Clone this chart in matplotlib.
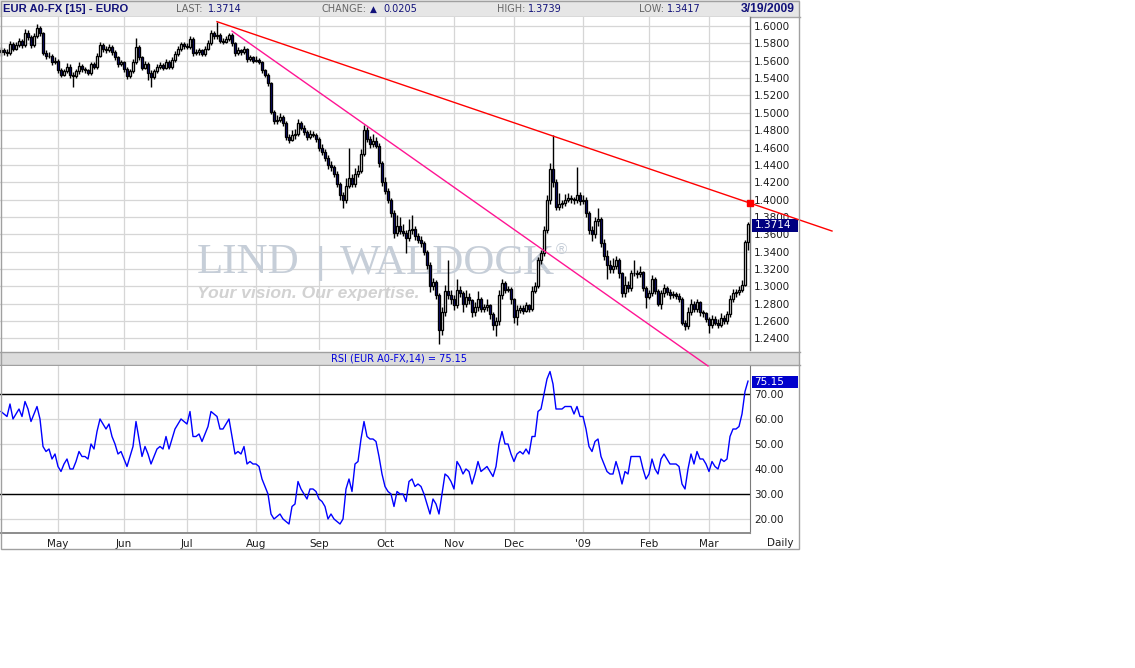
import numpy as np
import pandas as pd
import matplotlib
matplotlib.use("Agg")
import matplotlib.pyplot as plt
from matplotlib.patches import Rectangle
from matplotlib.lines import Line2D

# ---------------- data (prices in 1/10000) ----------------
opens = [
15700,15720,15700,15690,15790,15740,15780,15830,15780,15920,
15870,15780,15880,15980,15920,15690,15650,15660,15580,15600,
15490,15440,15480,15530,15430,15420,15480,15540,15500,15490,
15460,15560,15530,15660,15780,15740,15720,15760,15700,15640,
15560,15580,15500,15420,15480,15580,15760,15640,15520,15560,
15460,15410,15480,15530,15550,15520,15590,15530,15610,15680,
15740,15790,15770,15760,15850,15690,15700,15720,15680,15740,
15800,15920,15880,15900,15830,15820,15850,15900,15800,15690,
15720,15700,15740,15620,15640,15600,15610,15590,15490,15440,
15340,15010,14900,14920,14950,14880,14720,14690,14750,14760,
14880,14830,14780,14720,14760,14750,14700,14600,14550,14480,
14400,14380,14300,14180,14050,13990,14160,14250,14180,14300,
14330,14520,14800,14700,14640,14680,14620,14420,14200,14100,
14000,13850,13620,13700,13640,13620,13560,13650,13660,13580,
13540,13500,13400,13250,13000,13050,12900,12500,12700,12950,
12900,12850,12780,12960,12920,12800,12880,12840,12700,12760,
12860,12740,12760,12780,12680,12560,12600,12900,13040,12960,
12970,12850,12650,12730,12750,12720,12780,12740,12950,13000,
13300,13380,13650,14000,14350,14200,13920,13950,13960,14000,
14020,14010,13990,14050,13980,14000,13850,13650,13600,13750,
13780,13500,13350,13250,13200,13230,13300,13150,12920,13020,
12980,13150,13160,13140,13170,12980,12880,12920,13080,12950,
12800,12920,12980,12940,12900,12910,12890,12860,12580,12540,
12700,12800,12740,12820,12700,12690,12620,12550,12630,12580,
12560,12640,12600,12680,12850,12920,12930,12960,13020,13509]
highs = [
15760,15750,15730,15830,15810,15810,15860,15850,15960,15950,
15900,15920,16020,16000,15930,15720,15700,15680,15640,15620,
15520,15510,15570,15560,15470,15510,15580,15560,15530,15510,
15590,15580,15690,15810,15800,15770,15790,15780,15720,15660,
15610,15600,15530,15510,15620,15860,15780,15660,15600,15580,
15490,15510,15560,15580,15570,15620,15610,15640,15710,15770,
15820,15810,15800,15880,15870,15730,15750,15740,15770,15840,
15950,15940,16050,15920,15860,15880,15920,15920,15810,15760,
15740,15770,15750,15670,15660,15650,15630,15600,15510,15460,
15350,15030,14980,15000,14970,14900,14760,14800,14810,14930,
14900,14860,14800,14800,14790,14770,14720,14640,14580,14510,
14450,14400,14330,14200,14090,14250,14590,14290,14360,14400,
14580,14860,14840,14730,14760,14720,14650,14450,14260,14130,
14020,13880,13820,13800,13720,13650,13780,13820,13700,13620,
13580,13520,13420,13280,13100,13070,12920,12760,13020,13300,
12960,12900,13080,13000,12950,12960,12920,12860,12820,12950,
12880,12800,12850,12800,12700,12650,12960,13090,13060,13000,
12990,12870,12780,12790,12780,12820,12800,13000,13050,13340,
13420,13700,14050,14420,14740,14240,14080,14000,14060,14080,
14050,14030,14370,14090,14050,14030,13870,13700,13800,13900,
13800,13550,13420,13300,13330,13350,13330,13170,13120,13060,
13190,13300,13190,13230,13180,13000,12960,13130,13110,12970,
12960,13030,13010,12970,12950,12940,12920,12880,12610,12760,
12860,12830,12860,12830,12730,12710,12650,12670,12660,12620,
12690,12670,12720,12900,12970,12970,13000,13070,13530,13739]
lows = [
15660,15670,15650,15670,15710,15720,15760,15750,15760,15840,
15750,15760,15860,15890,15670,15620,15630,15550,15560,15460,
15410,15420,15460,15400,15300,15400,15450,15470,15460,15430,
15440,15500,15510,15640,15700,15690,15700,15670,15610,15530,
15540,15470,15390,15400,15460,15560,15610,15490,15500,15380,
15300,15390,15460,15500,15490,15500,15500,15510,15580,15660,
15710,15740,15730,15740,15660,15670,15670,15650,15660,15720,
15780,15850,15850,15800,15790,15800,15830,15770,15660,15670,
15670,15680,15590,15600,15570,15580,15560,15460,15410,15310,
14990,14870,14870,14890,14850,14690,14650,14670,14700,14730,
14800,14740,14690,14700,14720,14660,14560,14510,14440,14350,
14330,14260,14140,14000,13900,13960,14130,14140,14150,14260,
14310,14500,14660,14600,14610,14590,14380,14160,14060,13960,
13800,13560,13580,13600,13580,13390,13520,13600,13540,13500,
13450,13360,13200,12940,12960,12850,12340,12440,12660,12860,
12800,12730,12750,12880,12700,12760,12800,12650,12660,12720,
12700,12700,12720,12620,12500,12430,12560,12860,12920,12930,
12800,12580,12560,12690,12680,12700,12710,12720,12920,12980,
13260,13350,13620,13950,14150,13880,13880,13900,13930,13970,
13960,13950,13960,13940,13950,13800,13600,13520,13560,13700,
13450,13300,13080,13150,13150,13200,13100,12880,12880,12940,
12950,13120,13100,13110,12950,12750,12850,12890,12910,12770,
12740,12880,12900,12860,12870,12860,12820,12550,12500,12510,
12670,12710,12700,12660,12650,12590,12460,12520,12550,12520,
12530,12570,12570,12650,12820,12880,12900,12930,13000,13417]
closes = [
15720,15700,15690,15790,15740,15780,15830,15780,15920,15870,
15780,15880,15980,15920,15690,15650,15660,15580,15600,15490,
15440,15480,15530,15430,15420,15480,15540,15500,15490,15460,
15560,15530,15660,15780,15740,15720,15760,15700,15640,15560,
15580,15500,15420,15480,15580,15760,15640,15520,15560,15460,
15410,15480,15530,15550,15520,15590,15530,15610,15680,15740,
15790,15770,15760,15850,15690,15700,15720,15680,15740,15800,
15920,15880,15900,15830,15820,15850,15900,15800,15690,15720,
15700,15740,15620,15640,15600,15610,15590,15490,15440,15340,
15010,14900,14920,14950,14880,14720,14690,14750,14760,14880,
14830,14780,14720,14760,14750,14700,14600,14550,14480,14400,
14380,14300,14180,14050,13990,14160,14250,14180,14300,14330,
14520,14800,14700,14640,14680,14620,14420,14200,14100,14000,
13850,13620,13700,13640,13620,13560,13650,13660,13580,13540,
13500,13400,13250,13000,13050,12900,12500,12700,12950,12900,
12850,12780,12960,12920,12800,12880,12840,12700,12760,12860,
12740,12760,12780,12680,12560,12600,12900,13040,12960,12970,
12850,12650,12730,12750,12720,12780,12740,12950,13000,13300,
13380,13650,14000,14350,14200,13920,13950,13960,14000,14020,
14010,13990,14050,13980,14000,13850,13650,13600,13750,13780,
13500,13350,13250,13200,13230,13300,13150,12920,13020,12980,
13150,13160,13140,13170,12980,12880,12920,13080,12950,12800,
12920,12980,12940,12900,12910,12890,12860,12580,12540,12700,
12800,12740,12820,12700,12690,12620,12550,12630,12580,12560,
12640,12600,12680,12850,12920,12930,12960,13020,13509,13714]
rsi = [
63,62,61,66,60,62,64,61,67,64, 59,62,65,60,49,47,48,44,46,41,
39,42,44,40,40,43,47,45,45,44, 50,48,55,60,58,56,58,53,50,46,
47,44,41,45,49,59,52,45,49,46, 42,45,48,49,48,53,48,52,56,58,
60,59,58,63,53,53,54,51,54,57, 63,62,61,56,56,58,60,53,46,47,
46,49,42,43,42,42,41,36,33,30, 22,20,21,22,20,19,18,25,26,35,
32,30,28,32,32,31,28,27,25,20, 22,20,19,18,20,32,36,31,42,43,
52,59,53,52,52,51,45,38,33,31, 30,25,31,30,30,27,35,36,33,34,
33,30,26,22,28,26,22,30,38,37, 35,32,43,41,38,40,39,34,38,43,
39,40,41,39,37,41,50,55,50,50, 46,43,46,47,46,48,46,53,53,63,
64,70,76,79,74,64,64,64,65,65, 65,62,65,61,61,56,49,47,51,52,
45,42,39,38,38,43,39,34,39,38, 45,45,45,45,40,36,38,44,40,38,
44,46,44,42,42,42,41,34,32,40, 46,42,47,44,44,42,39,43,41,40,
44,43,44,53,56,56,57,62,71,75.15]

price_ticks = [1.24, 1.26, 1.28, 1.30, 1.32, 1.34, 1.36, 1.38, 1.40, 1.42,
               1.44, 1.46, 1.48, 1.50, 1.52, 1.54, 1.56, 1.58, 1.60]
rsi_ticks = [20, 30, 40, 50, 60, 70]
month_labels = ["May", "Jun", "Jul", "Aug", "Sep", "Oct", "Nov", "Dec", "'09", "Feb", "Mar"]

# trend lines drawn on the chart (bar index, price)
red_trend_idx = [72, 277]
red_trend_px = [1.6050, 1.3638]
pink_trend_idx = [77, 235.67]
pink_trend_px = [1.5942, 1.2083]

last_price = "1.3714"
last_rsi = "75.15"

# ---------------- prepare ----------------
O = np.array(opens) / 1e4
Hh_ = np.array(highs) / 1e4
L = np.array(lows) / 1e4
C = np.array(closes) / 1e4
R = np.array(rsi, float)
n = len(C)
idx = np.arange(n)
dates = pd.bdate_range("2008-04-04", periods=n, freq="B")
month_pos = [i for i in range(1, n) if dates[i].month != dates[i - 1].month]

W, HT = 1135, 668
fig = plt.figure(figsize=(W / 100, HT / 100), dpi=100)
fig.patch.set_facecolor("white")


def X(px):
    return px / W


def Y(py):
    return 1 - py / HT


XL = (-1 / 3, n - 1 / 3)
GRID = "#d6d6d6"
NAVY = "#12127a"
TXT = "#1e1e1e"

# ---------------- price panel ----------------
axp = fig.add_axes([0, Y(350), X(750), (350 - 17) / HT], zorder=3)
axp.set_xlim(XL)
axp.set_ylim(1.22673, 1.61037)
axp.set_yticks(price_ticks)
axp.set_yticklabels([f"{v:.4f}" for v in price_ticks])
axp.yaxis.tick_right()
axp.tick_params(axis="y", length=0, pad=3, labelsize=7.5, labelcolor=TXT)
axp.set_xticks(month_pos)
axp.tick_params(axis="x", length=0, labelbottom=False)
axp.grid(True, color=GRID, lw=0.9)
axp.set_axisbelow(True)
for s in ["top", "left", "bottom"]:
    axp.spines[s].set_visible(False)
axp.spines["right"].set_color("#7a7a7a")
axp.spines["right"].set_linewidth(1.0)

up = C >= O
body_bot = np.minimum(O, C)
body_h = np.maximum(np.abs(C - O), 0.0003)
axp.vlines(idx, L, Hh_, color="black", lw=1.0, zorder=3)
axp.bar(idx, body_h, bottom=body_bot, width=0.82,
        color=np.where(up, "white", "#0c0c80"), edgecolor="black",
        linewidth=0.95, zorder=4)

# watermark
wm = "#c6ced8"
axp.text(X(197), Y(273), "LIND", transform=fig.transFigure, fontsize=31,
         family="Liberation Serif", color=wm, ha="left", va="baseline", zorder=2)
axp.text(X(320), Y(273), "|", transform=fig.transFigure, fontsize=26,
         family="Liberation Sans", color=wm, ha="center", va="baseline", zorder=2)
axp.text(X(340), Y(273), "WALDOCK", transform=fig.transFigure, fontsize=31,
         family="Liberation Serif", color=wm, ha="left", va="baseline", zorder=2)
axp.text(X(556), Y(254), "\u00ae", transform=fig.transFigure, fontsize=11,
         family="Liberation Sans", color=wm, ha="left", va="baseline", zorder=2)
axp.text(X(197), Y(298), "Your vision. Our expertise.", transform=fig.transFigure,
         fontsize=12.6, family="Liberation Sans", style="italic", weight="bold",
         color="#d2d2d2", ha="left", va="baseline", zorder=2)

# ---------------- RSI panel ----------------
axr = fig.add_axes([0, Y(533), X(750), (533 - 366) / HT], zorder=2)
axr.set_xlim(XL)
axr.set_ylim(14.4, 81.2)
axr.set_yticks(rsi_ticks)
axr.set_yticklabels([f"{v:.2f}" for v in rsi_ticks])
axr.yaxis.tick_right()
axr.tick_params(axis="y", length=0, pad=3, labelsize=7.5, labelcolor=TXT)
axr.set_xticks(month_pos)
axr.set_xticklabels(month_labels)
axr.tick_params(axis="x", length=0, pad=4, labelsize=7.5, labelcolor=TXT)
axr.grid(True, color=GRID, lw=0.9)
axr.set_axisbelow(True)
for s in ["top", "left"]:
    axr.spines[s].set_visible(False)
axr.spines["right"].set_color("#7a7a7a")
axr.spines["bottom"].set_color("#8c8c8c")
axr.spines["bottom"].set_linewidth(1.4)
axr.axhline(70, color="black", lw=1.0, zorder=2)
axr.axhline(30, color="black", lw=1.0, zorder=2)
axr.plot(idx, R, color="#0000ff", lw=1.0, zorder=3)

# ---------------- overlay with trend lines ----------------
axo = fig.add_axes([0, Y(350), X(750), (350 - 17) / HT], zorder=10)
axo.set_xlim(XL)
axo.set_ylim(1.22673, 1.61037)
axo.axis("off")
axo.patch.set_alpha(0)
axo.plot(red_trend_idx, red_trend_px, color="#ff0000", lw=1.0, clip_on=False)
axo.plot(pink_trend_idx, pink_trend_px, color="#ff1493", lw=1.0, clip_on=False)
axo.plot([XL[1]], [np.interp(XL[1], red_trend_idx, red_trend_px)], marker="s",
         ms=4.5, color="#ff0000", clip_on=False)

# ---------------- figure decorations ----------------
def frect(x0, y0, x1, y1, **kw):
    r = Rectangle((X(x0), Y(y1)), X(x1) - X(x0), (y1 - y0) / HT,
                  transform=fig.transFigure, **kw)
    fig.patches.append(r)
    return r


def fline(x0, y0, x1, y1, **kw):
    fig.add_artist(Line2D([X(x0), X(x1)], [Y(y0), Y(y1)],
                          transform=fig.transFigure, **kw))


frect(0, 0, 800, 17, fc="#e6e6e6", ec="none", zorder=1)
fline(0, 17, 800, 17, color="#a8a8a8", lw=1, zorder=2)
frect(0, 352, 800, 365, fc="#dcdcdc", ec="none", zorder=1)
fline(0, 352, 800, 352, color="#a0a0a0", lw=1, zorder=2)
fline(0, 365, 800, 365, color="#a0a0a0", lw=1, zorder=2)
frect(0.5, 0.5, 799.5, 549, fill=False, ec="#a0a0a0", lw=1, zorder=20)

# header texts
fig.text(X(3), Y(9), "EUR A0-FX [15] - EURO", fontsize=8.1, weight="bold",
         family="Liberation Sans", color=NAVY, ha="left", va="center")
fig.text(X(176), Y(9), "LAST:", fontsize=7, color="#666666", ha="left", va="center")
fig.text(X(208), Y(9), last_price, fontsize=7, color=NAVY, ha="left", va="center")
fig.text(X(321), Y(9), "CHANGE:", fontsize=7, color="#666666", ha="left", va="center")
fig.text(X(370), Y(9), "\u25b2", fontsize=6.5, color=NAVY, ha="left", va="center")
fig.text(X(383), Y(9), "0.0205", fontsize=7, color=NAVY, ha="left", va="center")
fig.text(X(497), Y(9), "HIGH:", fontsize=7, color="#666666", ha="left", va="center")
fig.text(X(528), Y(9), "1.3739", fontsize=7, color=NAVY, ha="left", va="center")
fig.text(X(639), Y(9), "LOW:", fontsize=7, color="#666666", ha="left", va="center")
fig.text(X(667), Y(9), "1.3417", fontsize=7, color=NAVY, ha="left", va="center")
fig.text(X(795), Y(9), "3/19/2009", fontsize=8.7, weight="bold",
         family="Liberation Sans", color=NAVY, ha="right", va="center")

fig.text(X(399), Y(358.5), "RSI (EUR A0-FX,14) = " + last_rsi, fontsize=7,
         color="#0000dd", ha="center", va="center")

# last-value boxes
frect(752, 219, 798, 231.5, fc="#000080", ec="none", zorder=6)
fig.text(X(755), Y(225.5), last_price, fontsize=7.5, color="white",
         ha="left", va="center", zorder=7)
frect(752, 376, 798, 387.5, fc="#0000cc", ec="none", zorder=6)
fig.text(X(754), Y(382), last_rsi, fontsize=7.5, color="white",
         ha="left", va="center", zorder=7)

fig.text(X(780), Y(543), "Daily", fontsize=7.5, color=TXT, ha="center", va="center")

fig.savefig("out.png", dpi=100, facecolor="white")
